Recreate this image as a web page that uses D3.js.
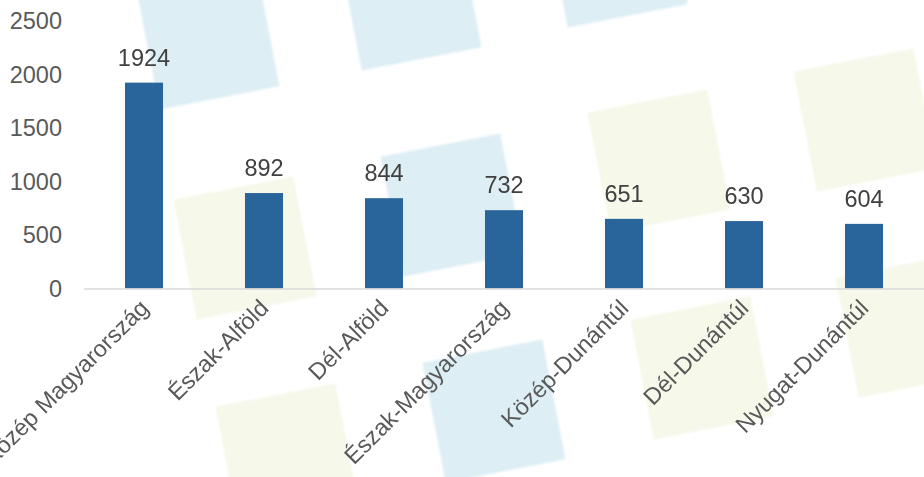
<!DOCTYPE html>
<html>
<head>
<meta charset="utf-8">
<script src="https://cdn.jsdelivr.net/npm/d3@7"></script>
<style>
  html, body { margin: 0; padding: 0; background: #fff; }
  svg { display: block; font-family: "Liberation Sans", Arial, sans-serif; }
</style>
</head>
<body>
<svg id="chart" width="924" height="477"></svg>
<script>
// data
const regions = ["Közép Magyarország", "Észak-Alföld", "Dél-Alföld", "Észak-Magyarország",
  "Közép-Dunántúl", "Dél-Dunántúl", "Nyugat-Dunántúl"];
const counts = [1924, 892, 844, 732, 651, 630, 604];
const yTicks = [0, 500, 1000, 1500, 2000, 2500];

// background decoration (tilted squares)
const decoBlue = [[208, 38], [410, -1], [616, -44], [452, 205], [494, 411]];
const decoYellow = [[245, 248], [659, 161], [865, 120], [287, 455], [702, 368], [907, 326]];

const svg = d3.select('#chart'),
  width = +svg.attr('width'),
  height = +svg.attr('height'),
  margin = { top: 21, right: 0, bottom: 189, left: 84 };

const defs = svg.append('defs');
defs.append('filter').attr('id', 'soft')
  .append('feGaussianBlur').attr('stdDeviation', 1.2);

const deco = svg.append('g').attr('filter', 'url(#soft)');
const side = 122;
function drawDeco(list, color) {
  deco.selectAll(null)
    .data(list)
    .enter()
    .append('rect')
    .attr('x', -side / 2)
    .attr('y', -side / 2)
    .attr('width', side)
    .attr('height', side)
    .attr('transform', (d) => `translate(${d[0]},${d[1]}) rotate(-11)`)
    .attr('fill', color);
}
drawDeco(decoBlue, '#deeef5');
drawDeco(decoYellow, '#f6f8ea');

const x = d3.scaleBand()
  .domain(regions)
  .range([margin.left, width - margin.right])
  .paddingInner(0.683)
  .paddingOuter(0.3415);

const y = d3.scaleLinear()
  .domain([0, 2500])
  .range([height - margin.bottom + 0.5, margin.top]);

// y axis labels (no line)
const yAxis = svg.append('g')
  .attr('transform', `translate(${margin.left},0)`)
  .call(d3.axisLeft(y).tickValues(yTicks).tickFormat(d3.format('d')).tickSize(0).tickPadding(22));
yAxis.select('.domain').remove();
yAxis.selectAll('text')
  .attr('fill', '#595959')
  .style('font-size', '23.5px')
  .style('font-family', '"Liberation Sans", Arial, sans-serif');

// bars
svg.append('g')
  .selectAll('rect')
  .data(counts)
  .enter()
  .append('rect')
  .attr('x', (d, i) => x(regions[i]))
  .attr('y', (d) => y(d))
  .attr('width', x.bandwidth())
  .attr('height', (d) => y(0) - y(d))
  .attr('fill', '#29649a');

// baseline
svg.append('line')
  .attr('x1', margin.left)
  .attr('x2', width - margin.right)
  .attr('y1', y(0) + 0.5)
  .attr('y2', y(0) + 0.5)
  .attr('stroke', '#d9d9d9')
  .attr('stroke-width', 1.5);

// value labels
svg.append('g')
  .selectAll('text')
  .data(counts)
  .enter()
  .append('text')
  .attr('x', (d, i) => x(regions[i]) + x.bandwidth() / 2)
  .attr('y', (d) => y(d) - 17)
  .attr('text-anchor', 'middle')
  .attr('fill', '#404040')
  .style('font-size', '23.5px')
  .text((d) => d);

// category labels
svg.append('g')
  .selectAll('text')
  .data(regions)
  .enter()
  .append('text')
  .attr('transform', (d) => `translate(${x(d) + x.bandwidth() / 2 + 6},${y(0) + 21}) rotate(-45)`)
  .attr('text-anchor', 'end')
  .attr('fill', '#595959')
  .style('font-size', '23.5px')
  .text((d) => d);
</script>
</body>
</html>
